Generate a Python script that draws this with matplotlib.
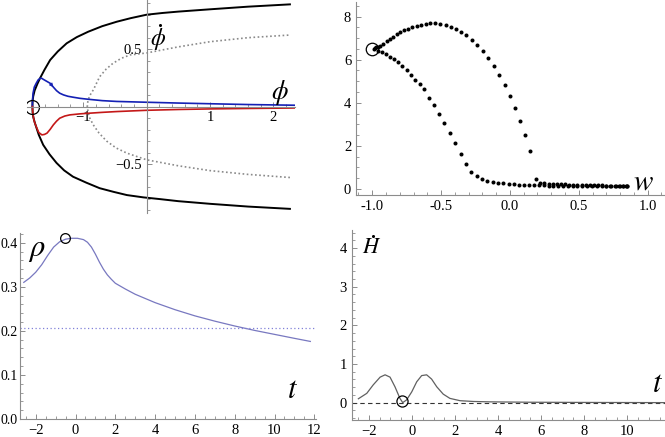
import numpy as np
import matplotlib
matplotlib.use("Agg")
import matplotlib.pyplot as plt
from matplotlib.ticker import MultipleLocator, FixedLocator, FormatStrFormatter
from matplotlib.transforms import offset_copy

plt.rcParams['font.family'] = 'serif'
plt.rcParams['font.serif'] = ['Liberation Serif', 'DejaVu Serif']
plt.rcParams['mathtext.fontset'] = 'stix'
plt.rcParams['font.size'] = 10.5

# ---- panel 1: phase plane (phi, phidot)
bound_x = [2.26, 1.6, 1.0, 0.5, 0.21, -0.05, -0.31, -0.52, -0.74, -0.95, -1.16, -1.30, -1.42,
           -1.53, -1.63, -1.70, -1.76, -1.785, -1.797, -1.80,
           -1.797, -1.787, -1.765, -1.72, -1.68, -1.61, -1.52, -1.40, -1.26, -1.10, -0.92,
           -0.70, -0.47, -0.25, 0.0, 0.25, 0.5, 1.0, 1.6, 2.26]
bound_y = [-0.89, -0.87, -0.846, -0.823, -0.805, -0.79, -0.77, -0.742, -0.71, -0.662, -0.61,
           -0.555, -0.49, -0.415, -0.333, -0.245, -0.144, -0.095, -0.05, 0.0,
           0.05, 0.09, 0.14, 0.20, 0.247, 0.32, 0.406, 0.48, 0.551, 0.605, 0.652,
           0.70, 0.739, 0.77, 0.80, 0.815, 0.827, 0.847, 0.87, 0.89]

dot_x = [2.26, 1.6, 1.0, 0.5, 0.0, -0.31, -0.48, -0.63, -0.75, -0.84, -0.895, -0.922, -0.935,
         -0.925, -0.90, -0.87, -0.84, -0.74, -0.64, -0.53, -0.40, -0.26, 0.0, 0.5, 1.0, 1.6, 2.26]
dot_y = [-0.617, -0.59, -0.557, -0.515, -0.463, -0.405, -0.36, -0.30, -0.23, -0.159, -0.10,
         -0.05, 0.0, 0.05, 0.09, 0.12, 0.145, 0.26, 0.325, 0.377, 0.42, 0.45, 0.467, 0.52,
         0.565, 0.60, 0.623]

blue_x = [-1.80, -1.80, -1.795, -1.79, -1.77, -1.74, -1.71, -1.68, -1.655, -1.63, -1.58, -1.52,
          -1.47, -1.42, -1.37, -1.31, -1.24, -1.16, -1.05, -0.92, -0.7, -0.47, 0.0, 0.5, 1.0, 1.6, 2.34]
blue_y = [0.0, 0.04, 0.08, 0.117, 0.17, 0.203, 0.232, 0.246, 0.247, 0.238, 0.222, 0.203,
          0.17, 0.139, 0.117, 0.102, 0.09, 0.082, 0.072, 0.064, 0.052, 0.045, 0.038, 0.031, 0.025, 0.018, 0.012]

red_x = [-1.80, -1.795, -1.79, -1.77, -1.74, -1.70, -1.65, -1.61, -1.57, -1.52, -1.47, -1.42,
         -1.37, -1.29, -1.21, -1.05, -0.92, -0.7, -0.47, 0.0, 0.5, 1.0, 1.6, 2.34]
red_y = [0.0, -0.04, -0.072, -0.13, -0.174, -0.225, -0.246, -0.242, -0.231, -0.198, -0.159, -0.127,
         -0.101, -0.082, -0.072, -0.063, -0.058, -0.05, -0.043, -0.032, -0.025, -0.02, -0.016, -0.012]

# ---- panel 2: scatter against w
w_up = [-0.99, -0.98, -0.97, -0.96, -0.944, -0.920, -0.896, -0.871, -0.847, -0.823, -0.799, -0.770,
        -0.741, -0.710, -0.678, -0.646, -0.612, -0.579, -0.542, -0.506, -0.467, -0.431, -0.392,
        -0.356, -0.317, -0.276, -0.237, -0.196, -0.158, -0.118, -0.080, -0.038, 0.000, 0.036,
        0.076, 0.109, 0.147]
y_up = [6.52, 6.55, 6.57, 6.60, 6.63, 6.74, 6.85, 6.96, 7.07, 7.18, 7.27, 7.37,
        7.44, 7.52, 7.58, 7.63, 7.66, 7.69, 7.69, 7.67, 7.61, 7.53, 7.43,
        7.30, 7.13, 6.93, 6.68, 6.39, 6.06, 5.70, 5.28, 4.83, 4.32, 3.78,
        3.15, 2.50, 1.74]
w_up_tail = [0.19, 0.22, 0.25, 0.28, 0.31, 0.34, 0.37, 0.40, 0.43, 0.46, 0.49, 0.52,
             0.55, 0.58, 0.61, 0.64, 0.67, 0.70, 0.73, 0.76, 0.79, 0.82, 0.85]
y_up_tail = [0.45, 0.30, 0.27, 0.25, 0.24, 0.23, 0.22, 0.21, 0.205, 0.20, 0.195, 0.19,
             0.185, 0.18, 0.175, 0.17, 0.165, 0.16, 0.155, 0.15, 0.145, 0.14, 0.135]
w_lo = [-0.956, -0.932, -0.900, -0.871, -0.842, -0.811, -0.782, -0.750, -0.719, -0.688, -0.656,
        -0.625, -0.586, -0.550, -0.516, -0.477, -0.438, -0.399, -0.358, -0.320, -0.281, -0.242,
        -0.203, -0.165, -0.126, -0.087, -0.049, -0.009, 0.029, 0.065, 0.104, 0.140, 0.175,
        0.21, 0.245, 0.28, 0.315, 0.35, 0.385, 0.42, 0.455, 0.49, 0.525, 0.56, 0.595, 0.63,
        0.665, 0.70, 0.735, 0.77, 0.80, 0.82, 0.84, 0.85]
y_lo = [6.42, 6.34, 6.25, 6.14, 6.03, 5.89, 5.72, 5.52, 5.31, 5.08, 4.85,
        4.62, 4.22, 3.88, 3.50, 3.06, 2.62, 2.13, 1.63, 1.17, 0.81, 0.59,
        0.47, 0.38, 0.33, 0.29, 0.26, 0.23, 0.21, 0.20, 0.19, 0.18, 0.175,
        0.17, 0.165, 0.16, 0.155, 0.15, 0.148, 0.145, 0.142, 0.14, 0.137, 0.135, 0.132, 0.13,
        0.127, 0.125, 0.122, 0.12, 0.118, 0.116, 0.115, 0.115]

# ---- panel 3: rho(t)
t_rho = [-2.6, -2.3, -2.0, -1.7, -1.4, -1.1, -0.8, -0.5, -0.2, 0.1, 0.4, 0.6, 0.8, 1.0, 1.2,
         1.4, 1.6, 1.8, 2.0, 2.5, 3.0, 4.0, 5.0, 6.0, 7.0, 8.0, 9.0, 10.0, 11.0, 11.8]
rho = [0.310, 0.320, 0.333, 0.350, 0.371, 0.390, 0.402, 0.408, 0.410, 0.410, 0.407, 0.401,
       0.390, 0.374, 0.356, 0.340, 0.327, 0.317, 0.308, 0.295, 0.283, 0.264, 0.248, 0.234,
       0.222, 0.211, 0.201, 0.192, 0.183, 0.176]
rho_level = 0.2055

# ---- panel 4: Hdot(t)
t_h = [-2.49, -2.10, -1.80, -1.48, -1.25, -1.02, -0.79, -0.56, -0.43, -0.25, -0.01, 0.22,
       0.45, 0.68, 0.91, 1.15, 1.45, 1.76, 2.23, 2.84, 3.6, 5.5, 8.0, 11.75]
hdot = [0.10, 0.24, 0.46, 0.66, 0.72, 0.66, 0.41, 0.11, 0.0, 0.07, 0.28, 0.54,
        0.70, 0.72, 0.61, 0.41, 0.22, 0.11, 0.05, 0.03, 0.02, 0.01, 0.005, 0.0]

W, H = 665.0, 437.0
AX_COL = '#8c8c8c'


def make_axes(left, top, right, bottom):
    ax = fig.add_axes([left / W, 1 - bottom / H, (right - left) / W, (bottom - top) / H])
    for s in ['top', 'right']:
        ax.spines[s].set_visible(False)
    for s in ['left', 'bottom']:
        ax.spines[s].set_color(AX_COL)
        ax.spines[s].set_linewidth(0.8)
    ax.tick_params(which='both', direction='in', color=AX_COL)
    ax.tick_params(which='major', length=3.5, width=0.7)
    ax.tick_params(which='minor', length=2, width=0.6)
    ax.patch.set_alpha(0)
    return ax


def dotted_label(ax, x, y, sym, size, dx, dy):
    # letter plus an overdot, as Mathematica draws it
    ax.text(x, y, sym, fontsize=size, ha='center', va='center')
    tr = offset_copy(ax.transData, fig=fig, x=dx, y=dy, units='points')
    ax.plot([x], [y], 'o', color='black', ms=2.2, mew=0, transform=tr)


fig = plt.figure(figsize=(6.65, 4.37), dpi=100)

# panel 1
ax1 = make_axes(26.7, 0, 295, 213)
ax1.set_xlim(-1.89, 2.34)
ax1.set_ylim(-0.926, 0.928)
ax1.spines['left'].set_position(('data', 0))
ax1.spines['bottom'].set_position(('data', 0))
ax1.xaxis.set_major_locator(FixedLocator([-1, 1, 2]))
ax1.xaxis.set_minor_locator(MultipleLocator(0.2))
ax1.yaxis.set_major_locator(FixedLocator([-0.5, 0.5]))
ax1.yaxis.set_minor_locator(MultipleLocator(0.1))
ax1.plot(bound_x, bound_y, color='black', lw=1.4)
ax1.plot(dot_x, dot_y, color='#8a8a8a', lw=1.2, ls=(0, (1, 1.5)))
ax1.plot(blue_x, blue_y, color='#1420b4', lw=1.2)
ax1.plot(red_x, red_y, color='#c41818', lw=1.2)
ax1.annotate('', xy=(blue_x[12], blue_y[12]), xytext=(blue_x[11], blue_y[11]),
             arrowprops=dict(arrowstyle='-|>', color='#1420b4', lw=0.5, mutation_scale=6,
                             shrinkA=0, shrinkB=0))
ax1.plot([red_x[0]], [red_y[0]], 'o', mfc='none', mec='black', ms=10, mew=0.9)
dotted_label(ax1, 0.18, 0.59, r'$\phi$', 17, 1.5, 10.0)
ax1.text(2.1, 0.12, r'$\phi$', fontsize=19, ha='center', va='center')

# panel 2
ax2 = make_axes(356, 2, 665, 195)
ax2.set_xlim(-1.118, 1.126)
ax2.set_ylim(-0.28, 8.68)
ax2.xaxis.set_major_locator(MultipleLocator(0.5))
ax2.xaxis.set_minor_locator(MultipleLocator(0.1))
ax2.yaxis.set_major_locator(MultipleLocator(2))
ax2.yaxis.set_minor_locator(MultipleLocator(0.5))
ax2.xaxis.set_major_formatter(FormatStrFormatter('%.1f'))
ax2.plot(w_up, y_up, 'o', color='black', ms=2.9, mew=0)
ax2.plot(w_up_tail, y_up_tail, 'o', color='black', ms=2.9, mew=0)
ax2.plot(w_lo, y_lo, 'o', color='black', ms=2.9, mew=0)
ax2.plot([-1.0], [6.5], 'o', mfc='none', mec='black', ms=9, mew=0.9)
ax2.text(0.97, 0.3, r'$w$', fontsize=21, ha='center', va='center')

# panel 3
ax3 = make_axes(20, 233, 316.3, 419)
ax3.set_xlim(-2.79, 12.1)
ax3.set_ylim(0, 0.422)
ax3.xaxis.set_major_locator(MultipleLocator(2))
ax3.xaxis.set_minor_locator(MultipleLocator(0.5))
ax3.yaxis.set_major_locator(MultipleLocator(0.1))
ax3.yaxis.set_minor_locator(MultipleLocator(0.02))
ax3.yaxis.set_major_formatter(FormatStrFormatter('%.1f'))
ax3.tick_params(axis='y', which='major', pad=1.5, labelsize=10)
ax3.plot(t_rho, rho, color='#7878c0', lw=0.9)
ax3.axhline(rho_level, color='#8080d8', lw=0.9, ls=(0, (1, 2)))
ax3.plot([-0.55], [0.41], 'o', mfc='none', mec='black', ms=7, mew=0.9)
ax3.text(-1.95, 0.385, r'$\rho$', fontsize=22, ha='center', va='center')
ax3.text(10.9, 0.065, r'$t$', fontsize=22, ha='center', va='center')

# panel 4
ax4 = make_axes(351.7, 230, 665, 420)
ax4.set_xlim(-2.8, 11.75)
ax4.set_ylim(-0.45, 4.47)
ax4.xaxis.set_major_locator(MultipleLocator(2))
ax4.xaxis.set_minor_locator(MultipleLocator(0.5))
ax4.yaxis.set_major_locator(MultipleLocator(1))
ax4.yaxis.set_minor_locator(MultipleLocator(0.2))
ax4.axhline(0, color='#333333', lw=0.8, ls=(0, (4, 3)))
ax4.plot(t_h, hdot, color='#606060', lw=0.9)
ax4.plot([-0.48], [0.03], 'o', mfc='none', mec='black', ms=8, mew=0.9)
dotted_label(ax4, -1.88, 4.0, r'$H$', 16, 0.8, 8.5)
ax4.text(11.4, 0.48, r'$t$', fontsize=22, ha='center', va='center')

fig.savefig('out.png', dpi=100)
